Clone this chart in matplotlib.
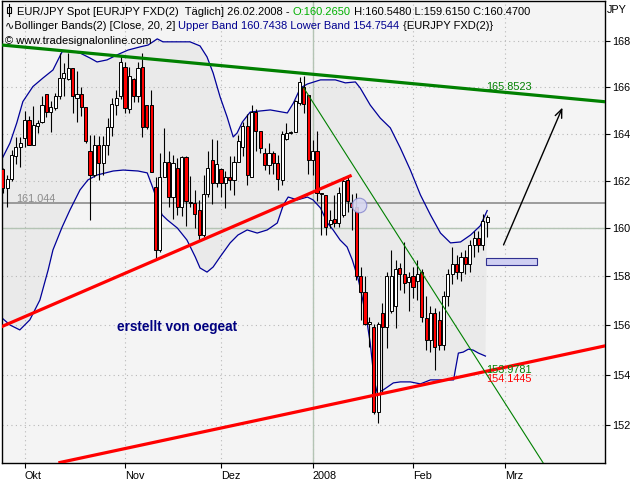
import numpy as np
import pandas as pd
import matplotlib
matplotlib.use('Agg')
import matplotlib.pyplot as plt
from matplotlib.ticker import FixedLocator, NullLocator, FuncFormatter
from matplotlib.patches import Rectangle
from matplotlib.lines import Line2D
from matplotlib.transforms import IdentityTransform

plt.rcParams['font.family'] = ['Liberation Sans', 'DejaVu Sans']

# daily candles EUR/JPY, 24.09.2007 - 26.02.2008
dates = pd.bdate_range('2007-09-24', '2008-02-26')
opens = [
    162.49, 161.68, 162.06, 163.05, 163.45, 163.80, 164.60, 163.50, 164.35, 164.48,
    165.70, 164.93, 165.09, 165.60, 166.40, 166.35, 166.82, 165.55, 165.70, 165.15,
    163.24, 162.24, 163.50, 162.74, 163.50, 164.30, 165.23, 165.60, 166.90, 165.06,
    166.35, 165.60, 166.90, 165.23, 165.23, 161.75, 159.10, 162.17, 162.80, 161.33,
    162.52, 160.90, 163.00, 161.12, 161.05, 160.75, 159.72, 161.43, 162.88, 161.90,
    162.48, 161.92, 162.17, 162.03, 162.78, 163.45, 164.33, 162.17, 164.95, 164.13,
    163.17, 162.67, 163.17, 162.74, 162.03, 163.77, 164.04, 164.06, 165.32, 166.03,
    165.67, 162.88, 163.24, 161.50, 161.40, 160.18, 160.38, 160.21, 160.55, 162.03,
    161.05, 160.90, 158.00, 157.37, 156.05, 155.94, 152.50, 156.48, 155.94, 156.60,
    156.78, 158.33, 158.10, 157.76, 158.00, 157.82, 158.20, 156.30, 155.40, 156.50,
    156.20, 155.20, 157.20, 158.10, 158.50, 158.20, 158.80, 158.50, 159.30, 159.60,
    159.30, 160.265]
highs = [
    162.55, 162.24, 163.30, 163.85, 163.85, 164.97, 164.76, 165.19, 164.60, 165.62,
    165.70, 165.40, 165.74, 167.50, 167.05, 167.50, 166.82, 166.70, 166.00, 165.15,
    163.96, 163.96, 163.90, 163.90, 164.66, 165.52, 165.88, 167.35, 167.10, 166.90,
    166.40, 167.10, 167.50, 165.23, 165.90, 162.17, 163.17, 164.23, 163.24, 163.10,
    162.96, 163.05, 163.05, 162.20, 161.60, 161.18, 162.24, 163.24, 163.78, 163.75,
    162.52, 162.40, 163.06, 163.06, 163.96, 164.51, 164.86, 165.24, 165.05, 164.13,
    163.39, 163.60, 163.24, 163.10, 164.10, 164.44, 164.10, 165.45, 166.46, 166.50,
    165.67, 163.75, 164.10, 161.50, 161.40, 160.76, 161.40, 161.75, 162.17, 162.17,
    161.43, 161.47, 158.40, 158.00, 156.35, 156.07, 156.14, 156.90, 158.20, 159.10,
    158.70, 158.55, 159.43, 158.20, 158.40, 158.70, 158.30, 157.20, 156.80, 156.70,
    156.60, 157.40, 158.30, 159.20, 158.90, 159.00, 159.10, 159.50, 159.90, 159.90,
    160.60, 160.548]
lows = [
    161.47, 160.90, 162.00, 162.71, 162.60, 163.43, 163.50, 163.50, 164.03, 164.45,
    164.70, 164.07, 165.00, 165.50, 165.60, 166.32, 164.90, 164.50, 164.75, 163.60,
    160.34, 162.17, 162.03, 162.24, 163.10, 163.88, 164.80, 165.50, 164.90, 164.90,
    165.37, 165.37, 163.85, 164.18, 162.38, 158.70, 159.03, 162.17, 160.90, 160.40,
    160.55, 160.50, 160.10, 160.90, 160.00, 159.45, 159.65, 161.33, 161.02, 161.75,
    161.33, 160.83, 161.60, 161.40, 162.78, 163.05, 161.80, 162.17, 163.24, 163.17,
    162.45, 162.30, 162.30, 161.60, 161.80, 163.74, 163.98, 164.06, 165.25, 164.88,
    162.30, 162.24, 161.15, 159.72, 159.72, 160.00, 160.07, 160.07, 160.48, 160.69,
    159.93, 157.86, 156.20, 156.00, 155.13, 152.43, 152.05, 153.30, 155.07, 156.48,
    155.88, 157.43, 157.30, 156.60, 157.10, 157.03, 156.14, 155.00, 154.90, 154.20,
    155.00, 155.00, 156.80, 157.70, 157.90, 157.80, 158.10, 158.20, 158.80, 159.00,
    159.10, 159.615]
closes = [
    161.68, 162.06, 163.07, 163.45, 163.60, 164.60, 163.50, 164.38, 164.45, 165.24,
    164.93, 165.13, 165.62, 166.42, 166.60, 166.82, 165.60, 165.70, 165.15, 163.68,
    162.24, 163.50, 162.74, 163.50, 164.28, 165.28, 165.52, 167.10, 165.10, 166.50,
    165.62, 166.82, 164.30, 164.30, 162.38, 159.10, 162.17, 162.80, 161.33, 162.74,
    160.90, 163.00, 161.15, 161.05, 160.60, 159.72, 161.43, 162.52, 161.90, 162.71,
    161.92, 162.17, 162.03, 162.80, 163.68, 164.33, 162.24, 164.95, 164.13, 163.39,
    162.67, 163.17, 162.74, 162.06, 163.98, 164.04, 164.05, 165.40, 166.24, 165.28,
    162.88, 163.24, 161.47, 161.45, 160.07, 160.35, 160.21, 161.47, 162.00, 161.15,
    160.88, 158.00, 157.35, 156.07, 156.15, 152.50, 156.07, 155.94, 158.00, 158.00,
    158.30, 158.10, 157.75, 157.96, 157.56, 158.10, 156.35, 155.40, 156.50, 155.10,
    155.20, 157.20, 158.10, 158.50, 158.20, 158.80, 158.50, 159.30, 159.60, 159.30,
    160.30, 160.47]

# bollinger bands (20, 2), x = trading day index
upper_x = [0, 1.65, 3.2, 4.6, 6.9, 9.2, 11.5, 13.6, 15.4, 17.7, 20.0, 21.6, 23.9,
           26.2, 28.7, 31.5, 33.3, 35.4, 36.7, 42.9, 45.2, 46.8, 48.2, 49.8, 51.4,
           52.8, 53.7, 54.9, 56.7, 61.3, 65.2, 66.6, 68.2, 69.8, 72.8, 76.2, 78.5,
           80.8, 81.9, 84.2, 86.5, 88.8, 91.1, 93.4, 95.7, 98.0, 100.3, 102.6,
           104.9, 107.2, 109.4, 111]
upper_band = [162.99, 163.60, 164.46, 165.38, 166.03, 166.40, 166.75, 167.55, 167.57,
              167.49, 167.27, 167.10, 167.19, 167.41, 167.62, 167.76, 167.84, 168.11,
              167.98, 167.98, 167.80, 167.32, 166.62, 165.58, 164.72, 163.86, 164.03,
              164.50, 164.93, 165.02, 164.89, 165.32, 165.97, 166.14, 166.32, 166.32,
              166.19, 166.23, 165.97, 165.23, 164.67, 164.25, 163.39, 162.45, 161.40,
              160.56, 159.80, 159.39, 159.43, 159.72, 160.10, 160.74]
lower_x = [-0.2, 1.65, 3.9, 6.2, 8.5, 10.4, 11.5, 13.6, 15.4, 17.7, 19.5, 21.6, 25.3,
           27.6, 31.0, 33.1, 34.4, 36.5, 37.7, 40.0, 42.2, 44.1, 45.2, 46.8, 48.2,
           49.8, 52.1, 53.9, 56.0, 58.3, 60.6, 62.9, 64.3, 65.4, 67.5, 69.8, 71.1,
           72.8, 74.4, 75.7, 77.3, 78.9, 80.1, 80.8, 81.5, 82.4, 83.5, 84.2, 85.1,
           85.8, 87.2, 89.5, 91.1, 93.4, 95.7, 98.0, 103.3, 103.7, 104.4, 105.5,
           106.7, 107.8, 109.0, 110.6]
lower_band = [156.30, 156.01, 155.81, 156.22, 157.03, 158.27, 159.10, 160.05, 160.77,
              161.61, 162.03, 162.24, 162.41, 162.45, 162.41, 162.33, 161.69, 160.56,
              160.35, 160.01, 159.51, 158.81, 158.35, 158.18, 158.39, 158.81, 159.39,
              159.72, 159.93, 159.80, 159.93, 160.22, 160.98, 161.31, 161.19, 161.31,
              161.19, 160.85, 160.22, 159.93, 159.51, 159.22, 158.68, 158.27, 157.85,
              157.11, 156.09, 155.28, 153.79, 153.27, 153.39, 153.67, 153.71, 153.71,
              153.63, 153.79, 153.79, 154.19, 154.87, 154.91, 155.03, 154.99, 154.87,
              154.75]

# drawn trend lines: (index, price) of the two anchor points
green_top = [(-0.18, 167.84), (111, 165.8523)]
red_support = [(-0.18, 155.95), (79.6, 162.2)]
red_bottom = [(13.1, 150.51), (111, 154.1445)]
green_thin = [(69, 165.96), (111, 153.9781)]
hline_grey = 161.044
hline_light = 160.0

month_labels = ['Okt', 'Nov', 'Dez', '2008', 'Feb', 'Mrz']
y_ticks = [152, 154, 156, 158, 160, 162, 164, 166, 168]

idx = np.arange(len(dates))
all_days = pd.bdate_range('2007-09-24', '2008-03-31')
month_pos = [i for i in range(1, len(all_days)) if all_days[i].month != all_days[i - 1].month]
x_max = 138.0


def ext(p0, p1, x):
    # straight line on the log chart
    (x0, y0), (x1, y1) = p0, p1
    return np.exp(np.log(y0) + (np.log(y1) - np.log(y0)) * (x - x0) / (x1 - x0))


fig = plt.figure(figsize=(6.4, 4.8), dpi=100, facecolor='white')
ax = fig.add_axes([2 / 640, 17 / 480, 603 / 640, 462 / 480])
ax.set_facecolor('#f4f4f4')
ax.set_yscale('log')
ax.set_ylim(150.49, 169.78)
ax.set_xlim(-0.18, x_max)

# band shading
ax.fill(np.r_[upper_x, lower_x[::-1]], np.r_[upper_band, lower_band[::-1]],
        color='#eaeaea', lw=0, zorder=0)

# grid
for t in y_ticks:
    ax.axhline(t, color='#b8b8b8', lw=0.8, ls=(0, (1, 3)), zorder=0.5)
for m in month_pos:
    ax.axvline(m, color='#b8b8b8', lw=0.8, ls=(0, (1, 3)), zorder=0.5)
ax.axvline(month_pos[3], color='#b4c4b4', lw=1, zorder=0.6)
ax.axhline(hline_light, color='#b4c4b4', lw=1, zorder=0.6)
ax.axhline(hline_grey, color='#8c8c8c', lw=1.2, zorder=0.6)

ax.plot(upper_x, upper_band, color='#000099', lw=0.9, zorder=1)
ax.plot(lower_x, lower_band, color='#000099', lw=0.9, zorder=1)

# candles
o = np.array(opens); h = np.array(highs); l = np.array(lows); c = np.array(closes)
ax.vlines(idx, l, h, color='black', lw=0.8, zorder=2)
body_lo = np.minimum(o, c)
body_h = np.maximum(np.abs(c - o), 0.03)
cols = ['#ff0000' if cc < oo else 'white' for oo, cc in zip(o, c)]
ax.bar(idx, body_h, bottom=body_lo, width=0.72, color=cols, edgecolor='black',
       linewidth=0.7, zorder=3)

# trend lines
xs = np.array([green_top[0][0], x_max])
ax.plot(xs, ext(*green_top, xs), color='#008000', lw=2.3, zorder=4)
xs = np.array([red_support[0][0], red_support[1][0]])
ax.plot(xs, ext(*red_support, xs), color='#ff0000', lw=2.3, zorder=4)
xs = np.array([red_bottom[0][0], x_max])
ax.plot(xs, ext(*red_bottom, xs), color='#ff0000', lw=2.3, zorder=4)
xs = np.array([green_thin[0][0], 126])
ax.plot(xs, ext(*green_thin, xs), color='#008000', lw=0.8, zorder=4)

ax.plot(81.6, 160.97, 'o', ms=10.5, mfc='#d6d6f0', mec='#8a8ad0', mew=0.8, alpha=0.9, zorder=5)
ax.add_patch(Rectangle((110.8, 158.48), 11.7, 0.29, facecolor='#cfcff2',
                       edgecolor='#303090', lw=0.8, zorder=5))
ax.annotate('', xy=(128.5, 165.23), xytext=(114.5, 159.2),
            arrowprops=dict(arrowstyle='->,head_length=0.6,head_width=0.25', color='black', lw=1),
            zorder=5)

# value labels
ax.text(110.8, 165.86, '165.8523', color='#008000', fontsize=7.8, va='baseline', zorder=6)
ax.text(110.8, 154.06, '153.9781', color='#008000', fontsize=7.8, va='baseline', zorder=6)
ax.text(110.8, 153.71, '154.1445', color='#ff0000', fontsize=7.8, va='baseline', zorder=6)
ax.text(3.0, 161.11, '161.044', color='#8c8c8c', fontsize=7.8, va='baseline', zorder=6)
ax.text(40.0, 155.77, 'erstellt von oegeat', color='#000080', fontsize=9.8, fontweight='bold',
        ha='center', va='baseline', zorder=6)

# axes
for s in ax.spines.values():
    s.set_color('black')
    s.set_linewidth(1)
ax.yaxis.tick_right()
ax.yaxis.set_major_locator(FixedLocator(y_ticks))
ax.yaxis.set_minor_locator(NullLocator())
ax.yaxis.set_major_formatter(FuncFormatter(lambda v, p: '%d' % v))
ax.set_xticks(month_pos)
ax.set_xticklabels(month_labels)
for lbl in ax.get_xticklabels():
    lbl.set_ha('left')
ax.tick_params(axis='both', direction='out', length=3.5, width=0.8, labelsize=7.8, pad=2)

# header
hdr = dict(xycoords='figure pixels', va='baseline', ha='left', fontsize=8.0,
           annotation_clip=False, zorder=10)


def chain(parts, x, y):
    prev = None
    for txt, col in parts:
        if prev is None:
            prev = ax.annotate(txt, xy=(x, 480 - y), color=col, **hdr)
        else:
            kw = dict(hdr)
            kw['xycoords'] = (prev, 'figure pixels')
            prev = ax.annotate(txt, xy=(1, 480 - y), color=col, **kw)


chain([('EUR/JPY Spot [EURJPY FXD(2)  T\u00e4glich] 26.02.2008 - ', 'black'),
       ('O:160.2650', '#00b000'),
       (' H:160.5480 L:159.6150 C:160.4700', 'black')], 17, 14.7)
chain([('\u223fBollinger Bands(2) [Close, 20, 2] ', 'black'),
       ('Upper Band 160.7438 Lower Band 154.7544', '#000090'),
       (' {EURJPY FXD(2)}', 'black')], 5, 29)
chain([('\u00a9 www.tradesignalonline.com', 'black')], 5, 44.5)

# little candle icon in front of the title
ident = IdentityTransform()
fig.add_artist(Line2D([8.5, 8.5], [480 - 4, 480 - 16], color='black', lw=0.8, transform=ident))
fig.add_artist(Rectangle((6.5, 480 - 13), 4, 6, facecolor='white', edgecolor='black',
                         lw=0.8, transform=ident))

fig.text(607 / 640, 1 - 13 / 480, 'JPY', fontsize=7.8, va='baseline', ha='left')

fig.savefig('out.png', dpi=100, facecolor='white')
